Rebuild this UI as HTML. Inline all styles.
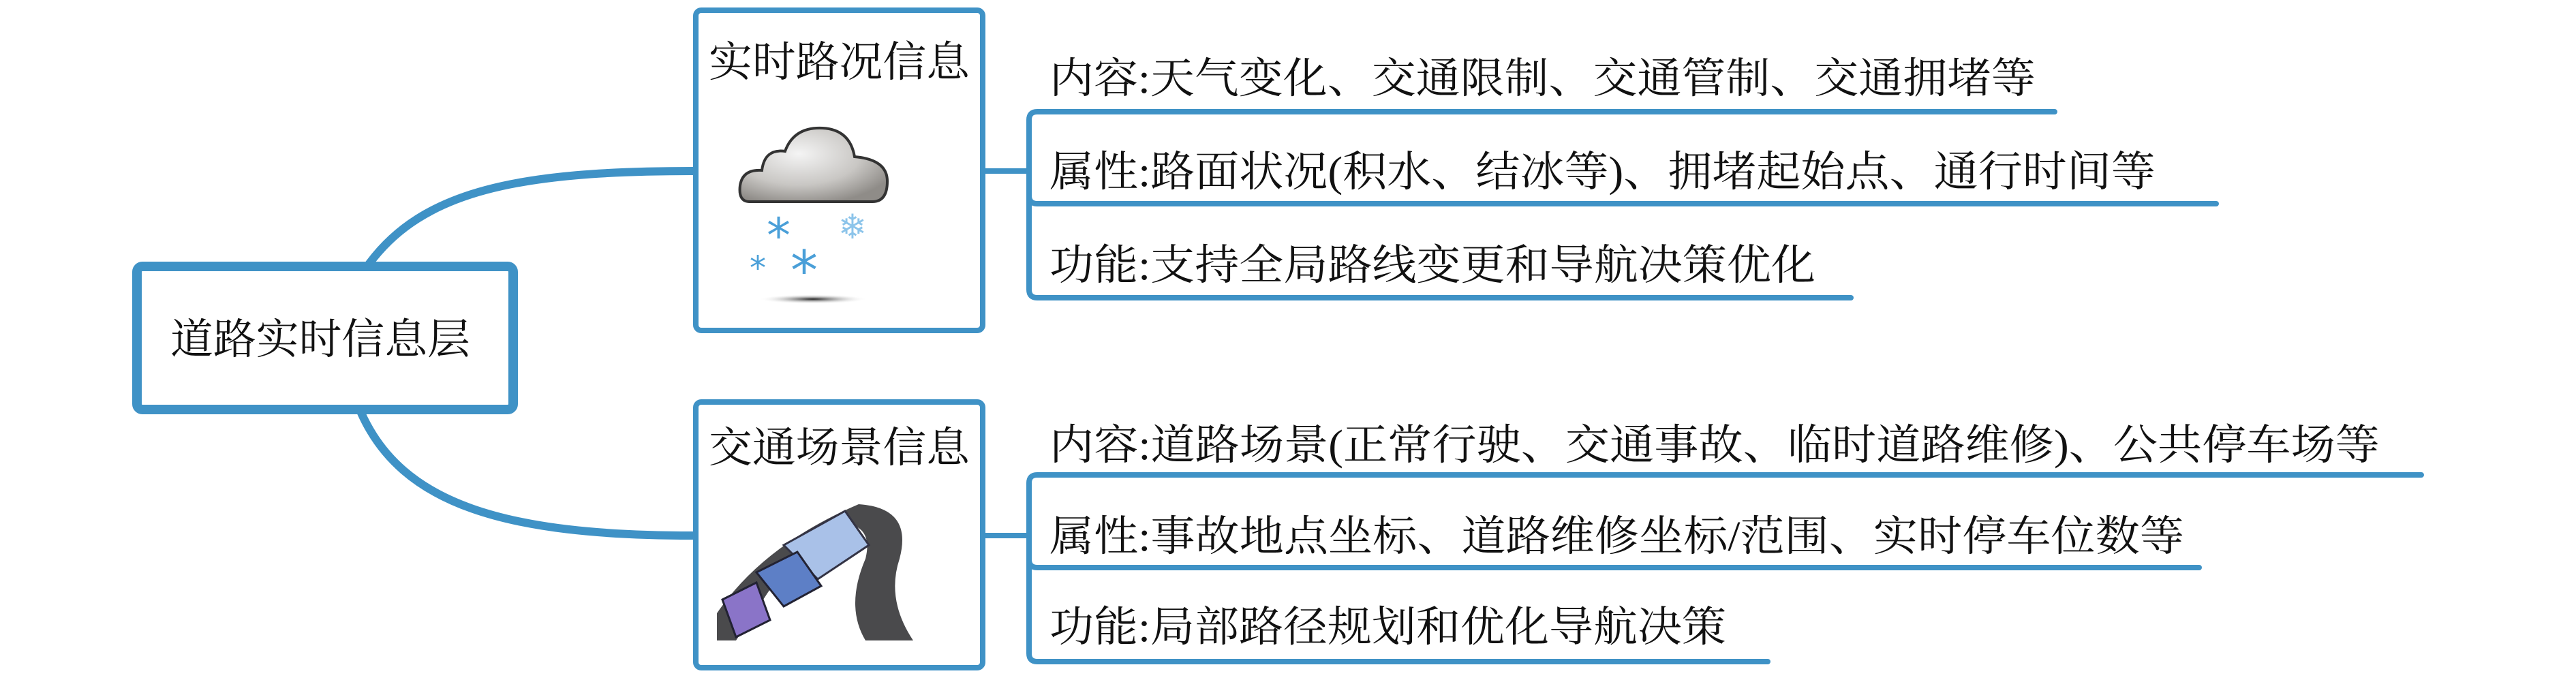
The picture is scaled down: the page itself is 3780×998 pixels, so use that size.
<!DOCTYPE html>
<html><head><meta charset="utf-8"><style>
html,body{margin:0;padding:0;background:#fff;}
svg{display:block;}
text{font-family:"Liberation Serif","Noto Serif CJK SC",serif;fill:#111;}
</style></head><body>
<svg width="3780" height="998" viewBox="0 0 3780 998" xmlns="http://www.w3.org/2000/svg">
<defs>
<radialGradient id="cl" cx="0.4" cy="0.35" r="0.7"><stop offset="0" stop-color="#f4f4f4"/><stop offset="0.6" stop-color="#c9c7c4"/><stop offset="1" stop-color="#8f8c88"/></radialGradient>
<radialGradient id="sh" cx="0.5" cy="0.5" r="0.5"><stop offset="0" stop-color="#222"/><stop offset="1" stop-color="#fff" stop-opacity="0"/></radialGradient>
</defs>
<g fill="none" stroke="#3f92c6" stroke-linecap="round">
<path d="M541 388 C 620 280, 760 251, 1017 251" stroke-width="12"/>
<path d="M530 606 C 590 740, 740 786, 1017 786" stroke-width="12"/>
<rect x="201" y="391" width="552" height="210" rx="8" stroke-width="14"/>
<rect x="1021" y="15" width="421" height="470" rx="8" stroke-width="8"/>
<rect x="1021" y="590" width="421" height="390" rx="8" stroke-width="8"/>
<path d="M1446 251 H1510" stroke-width="8"/>
<path d="M3015 164 H1522 Q1510 164 1510 176 V425 Q1510 437 1522 437 H2716" stroke-width="8"/>
<path d="M1510 287 Q1510 299 1522 299 H3252" stroke-width="8"/>
<path d="M1446 786 H1510" stroke-width="8"/>
<path d="M3553 697 H1522 Q1510 697 1510 709 V959 Q1510 971 1522 971 H2594" stroke-width="8"/>
<path d="M1510 821 Q1510 833 1522 833 H3227" stroke-width="8"/>
</g>
<text x="250" y="519" font-size="62" textLength="440" lengthAdjust="spacingAndGlyphs">道路实时信息层</text>
<text x="1040" y="112" font-size="62" textLength="383" lengthAdjust="spacingAndGlyphs">实时路况信息</text>
<text x="1040" y="678" font-size="62" textLength="383" lengthAdjust="spacingAndGlyphs">交通场景信息</text>
<text x="1540" y="136" font-size="62" textLength="1447" lengthAdjust="spacingAndGlyphs">内容:天气变化、交通限制、交通管制、交通拥堵等</text>
<text x="1540" y="273" font-size="62" textLength="1623" lengthAdjust="spacingAndGlyphs">属性:路面状况(积水、结冰等)、拥堵起始点、通行时间等</text>
<text x="1540" y="410" font-size="62" textLength="1124" lengthAdjust="spacingAndGlyphs">功能:支持全局路线变更和导航决策优化</text>
<text x="1540" y="674" font-size="62" textLength="1952" lengthAdjust="spacingAndGlyphs">内容:道路场景(正常行驶、交通事故、临时道路维修)、公共停车场等</text>
<text x="1540" y="808" font-size="62" textLength="1665" lengthAdjust="spacingAndGlyphs">属性:事故地点坐标、道路维修坐标/范围、实时停车位数等</text>
<text x="1540" y="941" font-size="62" textLength="993" lengthAdjust="spacingAndGlyphs">功能:局部路径规划和优化导航决策</text>
<path d="M1100 296 Q1083 296 1086 272 Q1090 248 1118 250 Q1122 218 1152 222 Q1165 186 1207 188 Q1247 190 1254 230 Q1302 234 1302 266 Q1302 296 1280 296 Z" fill="url(#cl)" stroke="#333" stroke-width="4"/>
<text x="1125" y="370" style="fill:#4a9fd8;font-family:'DejaVu Sans';font-size:70px">*</text>
<text x="1230" y="350" style="fill:#8cc4ea;font-family:'DejaVu Sans';font-size:50px">❄</text>
<text x="1100" y="410" style="fill:#4a9fd8;font-family:'DejaVu Sans';font-size:48px">*</text>
<text x="1160" y="425" style="fill:#4a9fd8;font-family:'DejaVu Sans';font-size:80px">*</text>
<ellipse cx="1193" cy="439" rx="80" ry="7" fill="url(#sh)"/>
<path d="M1260 740 Q1340 745 1320 820 Q1300 880 1340 940 L1270 940 Q1240 890 1270 820 Q1280 780 1250 770 Q1170 800 1120 880 L1080 940 L1052 940 L1052 900 Q1120 800 1260 740 Z" fill="#4a4a4c"/>
<path d="M1150 800 L1240 750 L1275 800 L1200 850 Z" fill="#a9c1e8" stroke="#334" stroke-width="3"/>
<path d="M1110 840 L1170 810 L1205 860 L1150 890 Z" fill="#5d7fc6" stroke="#223" stroke-width="3"/>
<path d="M1060 880 L1110 855 L1130 910 L1080 935 Z" fill="#8a74c8" stroke="#223" stroke-width="3"/>
</svg>
</body></html>
